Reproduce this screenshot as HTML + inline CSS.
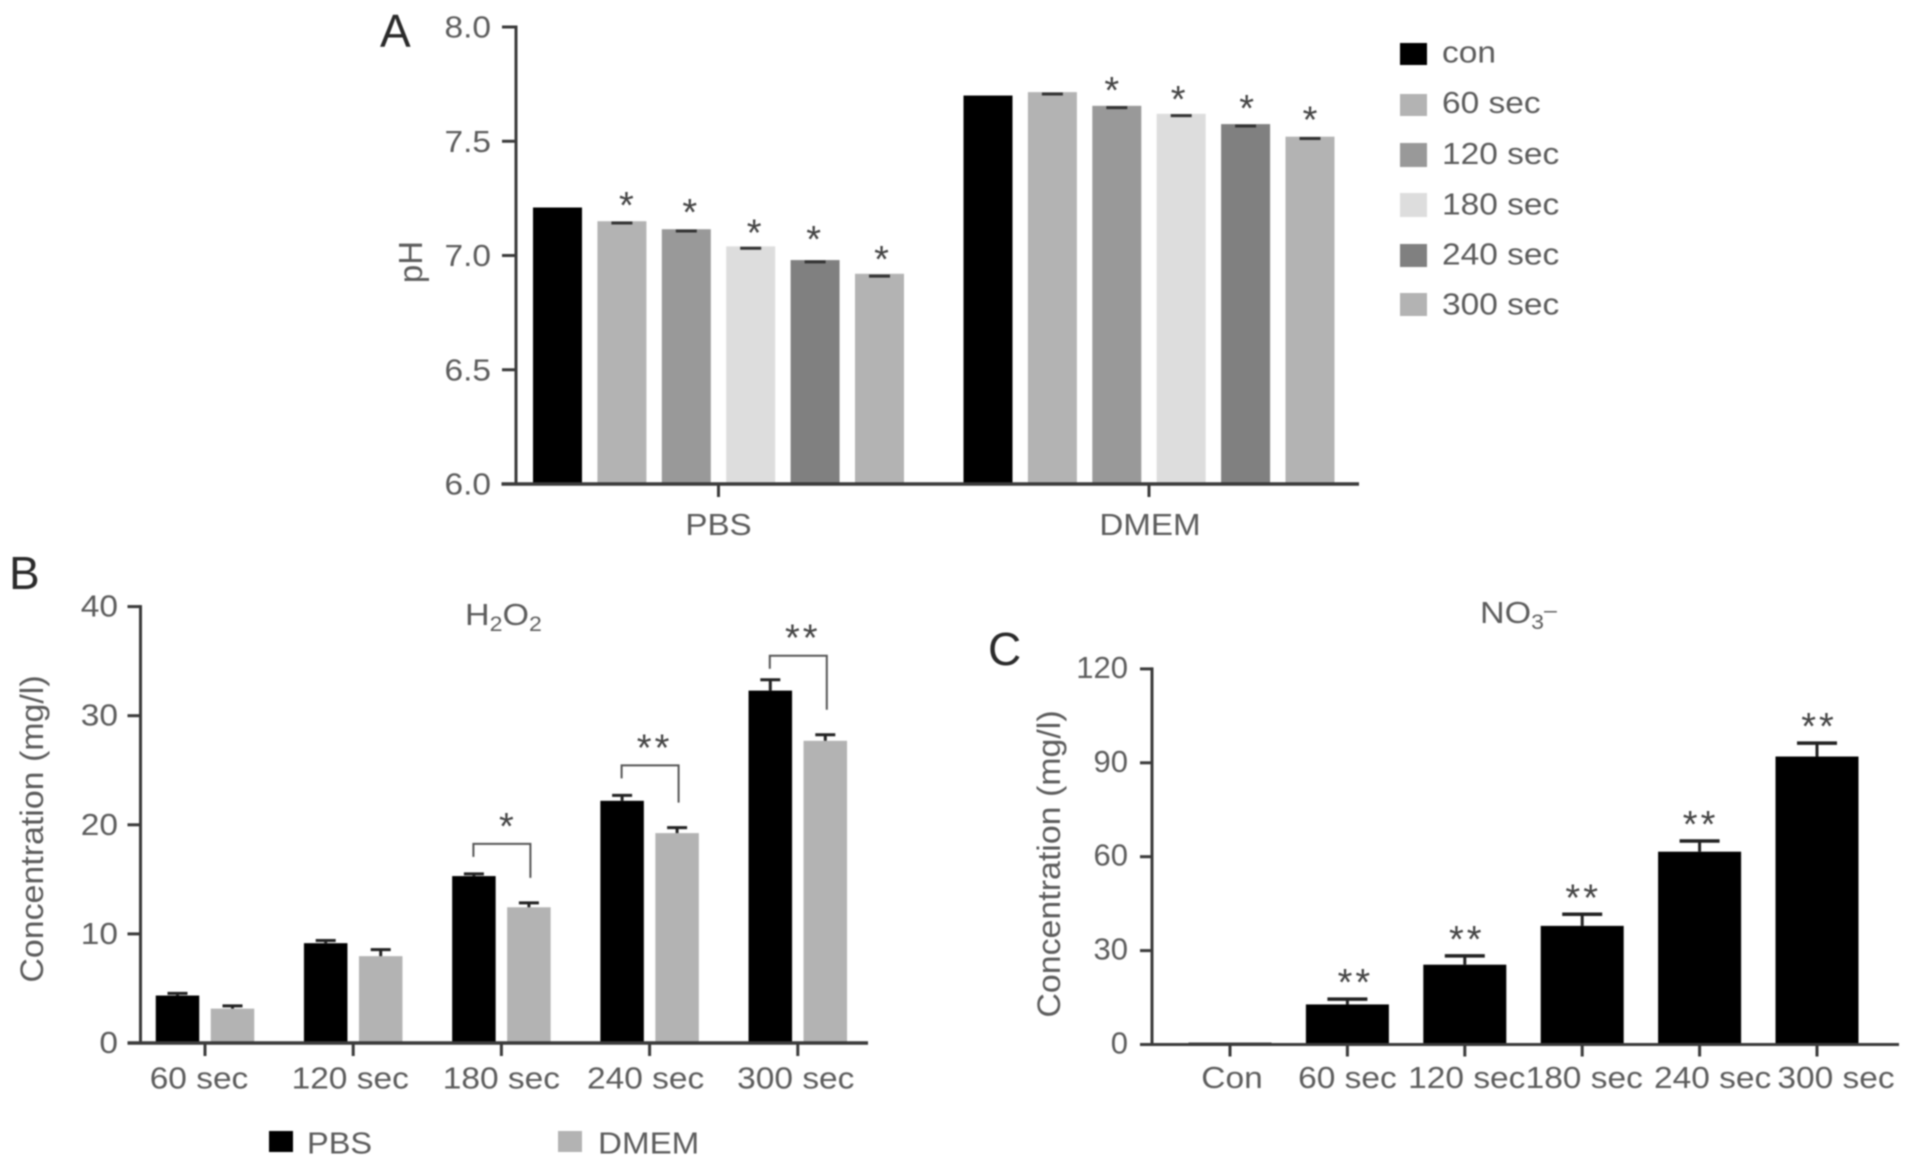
<!DOCTYPE html>
<html lang="en">
<head>
<meta charset="utf-8">
<title>pH, H2O2 and NO3- bar charts</title>
<style>
html,body{margin:0;padding:0;background:#fff;width:1913px;height:1168px;overflow:hidden}
svg{display:block;filter:blur(0.7px)}
text{font-family:"Liberation Sans",sans-serif;fill:#5c5c5c}
.letter{font-size:46px;fill:#2a2a2a}
</style>
</head>
<body>
<svg id="figure" xmlns="http://www.w3.org/2000/svg" width="1913" height="1168" viewBox="0 0 1913 1168">
  <rect x="0" y="0" width="1913" height="1168" fill="#fff"/>

  <g id="panel-a">
    <text class="letter" x="380" y="47">A</text>
    <text font-size="33" text-anchor="middle" transform="translate(422,262) rotate(-90)">pH</text>
    <g>
      <rect x="1400" y="43" width="27" height="22" fill="#000"/>
      <text font-size="31" transform="translate(1442,62.5) scale(1.08,1)">con</text>
      <rect x="1400" y="94" width="27" height="22" fill="#b3b3b3"/>
      <text font-size="31" transform="translate(1442,113) scale(1.08,1)">60 sec</text>
      <rect x="1400" y="143" width="27" height="24" fill="#999"/>
      <text font-size="31" transform="translate(1442,164) scale(1.08,1)">120 sec</text>
      <rect x="1400" y="193" width="27" height="24" fill="#ddd"/>
      <text font-size="31" transform="translate(1442,214.5) scale(1.08,1)">180 sec</text>
      <rect x="1400" y="244" width="27" height="23" fill="#808080"/>
      <text font-size="31" transform="translate(1442,264.5) scale(1.08,1)">240 sec</text>
      <rect x="1400" y="293" width="27" height="23" fill="#b3b3b3"/>
      <text font-size="31" transform="translate(1442,314.5) scale(1.08,1)">300 sec</text>
    </g>
  </g>

  <g id="panel-b">
    <text class="letter" x="9" y="589">B</text>
    <text font-size="31" transform="translate(465,625) scale(1.1,1)">H<tspan font-size="21" dy="6">2</tspan><tspan dy="-6">O</tspan><tspan font-size="21" dy="6">2</tspan></text>
    <text font-size="32" text-anchor="middle" transform="translate(43,829) rotate(-90) scale(1.06,1)">Concentration (mg/l)</text>
    <g>
      <rect x="269" y="1131" width="24" height="21" fill="#000"/>
      <text font-size="31" transform="translate(307,1153.5) scale(1.05,1)">PBS</text>
      <rect x="558" y="1131" width="24" height="21" fill="#b3b3b3"/>
      <text font-size="31" transform="translate(598,1153.5) scale(1.07,1)">DMEM</text>
    </g>
  </g>

  <g id="panel-c">
    <text class="letter" x="988" y="665">C</text>
    <text font-size="31" transform="translate(1480,623) scale(1.1,1)">NO<tspan font-size="21" dy="6">3</tspan><tspan font-size="21" dy="-12">–</tspan></text>
    <text font-size="32" text-anchor="middle" transform="translate(1060,864) rotate(-90) scale(1.06,1)">Concentration (mg/l)</text>
  </g>
</svg>

<script>
// ---------- Panel A data ----------
const phCategories = ['PBS', 'DMEM'];
const phTicks = ['6.0', '6.5', '7.0', '7.5', '8.0'];
const phPBS = [7.21, 7.15, 7.115, 7.04, 6.98, 6.92];
const phDMEM = [7.70, 7.715, 7.655, 7.62, 7.575, 7.52];
const phPBSErr = [0, 0.008, 0.008, 0.008, 0.008, 0.01];
const phDMEMErr = [0, 0.008, 0.008, 0.008, 0.008, 0.008];
const phPBSSig = ['', '*', '*', '*', '*', '*'];
const phDMEMSig = ['', '', '*', '*', '*', '*'];

// ---------- Panel B data ----------
const h2o2Categories = ['60 sec', '120 sec', '180 sec', '240 sec', '300 sec'];
const h2o2Ticks = ['0', '10', '20', '30', '40'];
const h2o2PBS = [4.35, 9.15, 15.3, 22.2, 32.3];
const h2o2DMEM = [3.15, 7.96, 12.44, 19.24, 27.7];
const h2o2PBSErr = [0.2, 0.25, 0.2, 0.5, 1.0];
const h2o2DMEMErr = [0.25, 0.6, 0.4, 0.5, 0.55];
const h2o2Sig = ['', '', '*', '**', '**'];

// ---------- Panel C data ----------
const no3Categories = ['Con', '60 sec', '120 sec', '180 sec', '240 sec', '300 sec'];
const no3Ticks = ['0', '30', '60', '90', '120'];
const no3Values = [0.6, 12.8, 25.5, 37.9, 61.6, 92];
const no3Err = [0, 1.7, 2.8, 3.7, 3.4, 4.3];
const no3Sig = ['', '**', '**', '**', '**', '**'];

const SVG_NS = 'http://www.w3.org/2000/svg';
const AXIS = '#3a3a3a';

function rect(parent, x, y, w, h, fill) {
  const el = document.createElementNS(SVG_NS, 'rect');
  el.setAttribute('x', x);
  el.setAttribute('y', y);
  el.setAttribute('width', w);
  el.setAttribute('height', h);
  el.setAttribute('fill', fill);
  parent.appendChild(el);
  return el;
}
function line(parent, x1, y1, x2, y2, width, color) {
  const el = document.createElementNS(SVG_NS, 'line');
  el.setAttribute('x1', x1);
  el.setAttribute('y1', y1);
  el.setAttribute('x2', x2);
  el.setAttribute('y2', y2);
  el.setAttribute('stroke', color);
  el.setAttribute('stroke-width', width);
  parent.appendChild(el);
  return el;
}
function label(parent, str, x, y, size, anchor, sx) {
  const el = document.createElementNS(SVG_NS, 'text');
  el.setAttribute('font-size', size);
  el.setAttribute('text-anchor', anchor);
  el.setAttribute('transform', 'translate(' + x + ',' + y + ') scale(' + sx + ',1)');
  el.textContent = str;
  parent.appendChild(el);
  return el;
}
function star(parent, str, x, cy) {
  const el = document.createElementNS(SVG_NS, 'text');
  el.setAttribute('font-size', 38);
  el.setAttribute('text-anchor', 'middle');
  el.setAttribute('x', x);
  el.setAttribute('y', cy + 22);
  el.setAttribute('letter-spacing', str.length > 1 ? 3 : 0);
  el.setAttribute('style', 'fill:#444');
  el.textContent = str;
  
  
  parent.appendChild(el);
  return el;
}

function drawYAxis(parent, tickLabels, scale, axisX, labelRight, tickLen, sx, labelDy) {
  const values = tickLabels.map(Number);
  const axis = line(parent, axisX, scale(values[values.length - 1]) - 1.5, axisX, scale(values[0]) + 1.5, 3, AXIS);
  
  
  values.forEach(function (v, i) {
    const t = line(parent, axisX - tickLen, scale(v), axisX, scale(v), 3, AXIS);
    
    
    const l = label(parent, tickLabels[i], labelRight, scale(v) + labelDy, 31, 'end', sx);
    
    
  });
}

// ---------- Panel A ----------
(function () {
  const g = document.getElementById('panel-a');
  const yA = function (v) { return 484 - (v - 6) * 228.5; };
  const groupX = function (i) { return 718.5 + i * 430.5; };
  const barX = function (i, j) { return groupX(i) + (j - 2.5) * 64.4; };
  const fills = ['#000', '#b3b3b3', '#999', '#ddd', '#808080', '#b3b3b3'];
  const barW = 49;
  const starDx = [[0, 4.5, 3.5, 3.5, -1.5, 2], [0, 0, -5, -3, 1, 0]];
  const starDy = [[0, -6, -7, -4, -11, -5], [0, 0, -6, -5, -6, -7]];
  [phPBS, phDMEM].forEach(function (series, i) {
    const errs = i === 0 ? phPBSErr : phDMEMErr;
    const sigs = i === 0 ? phPBSSig : phDMEMSig;
    series.forEach(function (v, j) {
      const b = rect(g, barX(i, j) - barW / 2, yA(v), barW, yA(6) - yA(v), fills[j]);
      
      
      if (errs[j] > 0) {
        const c = line(g, barX(i, j) - 10.5, yA(v - errs[j]), barX(i, j) + 10.5, yA(v - errs[j]), 3, '#333');
        
        
      }
      if (sigs[j]) {
        star(g, sigs[j], barX(i, j) + starDx[i][j], yA(v) - 19 + starDy[i][j]);
      }
    });
  });
  const xAxis = line(g, 501.5, yA(6), 1359, yA(6), 3.5, AXIS);
  
  
  phCategories.forEach(function (c, i) {
    const t = line(g, groupX(i), yA(6), groupX(i), yA(6) + 13, 3, AXIS);
    
    
    const l = label(g, c, groupX(i) + i, 535, 31, 'middle', 1.07);
    
    
  });
  drawYAxis(g, phTicks, yA, 516, 491, 14, 1.08, 10.5);
})();

// ---------- Panel B ----------
(function () {
  const g = document.getElementById('panel-b');
  const yB = function (v) { return 1043 - v * 10.91; };
  const catX = function (i) { return 205 + i * 148.2; };
  const barW = 43.5;
  const offset = 27.5;
  const labelNudge = [-6, -3, 0, -4, -2];
  const bracketGap = [0, 0, 30, 30, 24];
  function drawSeries(values, errs, dir, fill) {
    values.forEach(function (v, i) {
      const cx = catX(i) + dir * offset;
      const b = rect(g, cx - barW / 2, yB(v), barW, yB(0) - yB(v), fill);
      
      
      const s = line(g, cx, yB(v), cx, yB(v + errs[i]), 3, '#222');
      
      
      const c = line(g, cx - 10, yB(v + errs[i]), cx + 10, yB(v + errs[i]), 3, '#222');
      
      
    });
  }
  drawSeries(h2o2PBS, h2o2PBSErr, -1, '#000');
  drawSeries(h2o2DMEM, h2o2DMEMErr, 1, '#b3b3b3');

  h2o2Sig.forEach(function (sig, i) {
    if (!sig) return;
    const top = yB(h2o2PBS[i] + h2o2PBSErr[i]) - bracketGap[i];
    const left = catX(i) - 28;
    const right = catX(i) + 29;
    const path = document.createElementNS(SVG_NS, 'path');
    path.setAttribute('d', 'M' + left + ' ' + (top + 13) + 'V' + top + 'H' + right + 'V' + (yB(h2o2DMEM[i] + h2o2DMEMErr[i]) - 25));
    path.setAttribute('fill', 'none');
    path.setAttribute('stroke', '#555');
    path.setAttribute('stroke-width', 2);
    
    
    g.appendChild(path);
    star(g, sig, catX(i) + 5, top - 27);
  });

  const xAxis = line(g, 127.5, yB(0), 868, yB(0), 3.5, AXIS);
  
  
  h2o2Categories.forEach(function (c, i) {
    const t = line(g, catX(i), yB(0), catX(i), yB(0) + 13, 3, AXIS);
    
    
    const l = label(g, c, catX(i) + labelNudge[i], 1088.5, 31, 'middle', 1.08);
    
    
  });
  drawYAxis(g, h2o2Ticks, yB, 140.5, 118, 13, 1.08, 10);
})();

// ---------- Panel C ----------
(function () {
  const g = document.getElementById('panel-c');
  const yC = function (v) { return 1044.5 - v * 3.13; };
  const catX = function (i) { return 1230 + i * 117.4; };
  const barW = 83;
  const labelNudge = [2, 0, 2, 2, 13, 19];
  const starDx = [0, 8, 2, 1, 1, 2];
  no3Values.forEach(function (v, i) {
    const cx = catX(i);
    const b = rect(g, cx - barW / 2, yC(v), barW, yC(0) - yC(v), '#000');
    
    
    if (no3Err[i] > 0) {
      const s = line(g, cx, yC(v), cx, yC(v + no3Err[i]), 3, '#222');
      
      
      const c = line(g, cx - 20, yC(v + no3Err[i]), cx + 20, yC(v + no3Err[i]), 3.5, '#222');
      
      
    }
    if (no3Sig[i]) {
      star(g, no3Sig[i], cx + starDx[i], yC(v + no3Err[i]) - 26);
    }
  });
  const xAxis = line(g, 1142, yC(0), 1899, yC(0), 3, AXIS);
  
  
  no3Categories.forEach(function (c, i) {
    const t = line(g, catX(i), yC(0), catX(i), yC(0) + 12, 3, AXIS);
    
    
    const l = label(g, c, catX(i) + labelNudge[i], 1088, 31, 'middle', 1.08);
    
    
  });
  drawYAxis(g, no3Ticks, yC, 1152, 1128, 12, 1.0, 9);
})();
</script>
</body>
</html>
